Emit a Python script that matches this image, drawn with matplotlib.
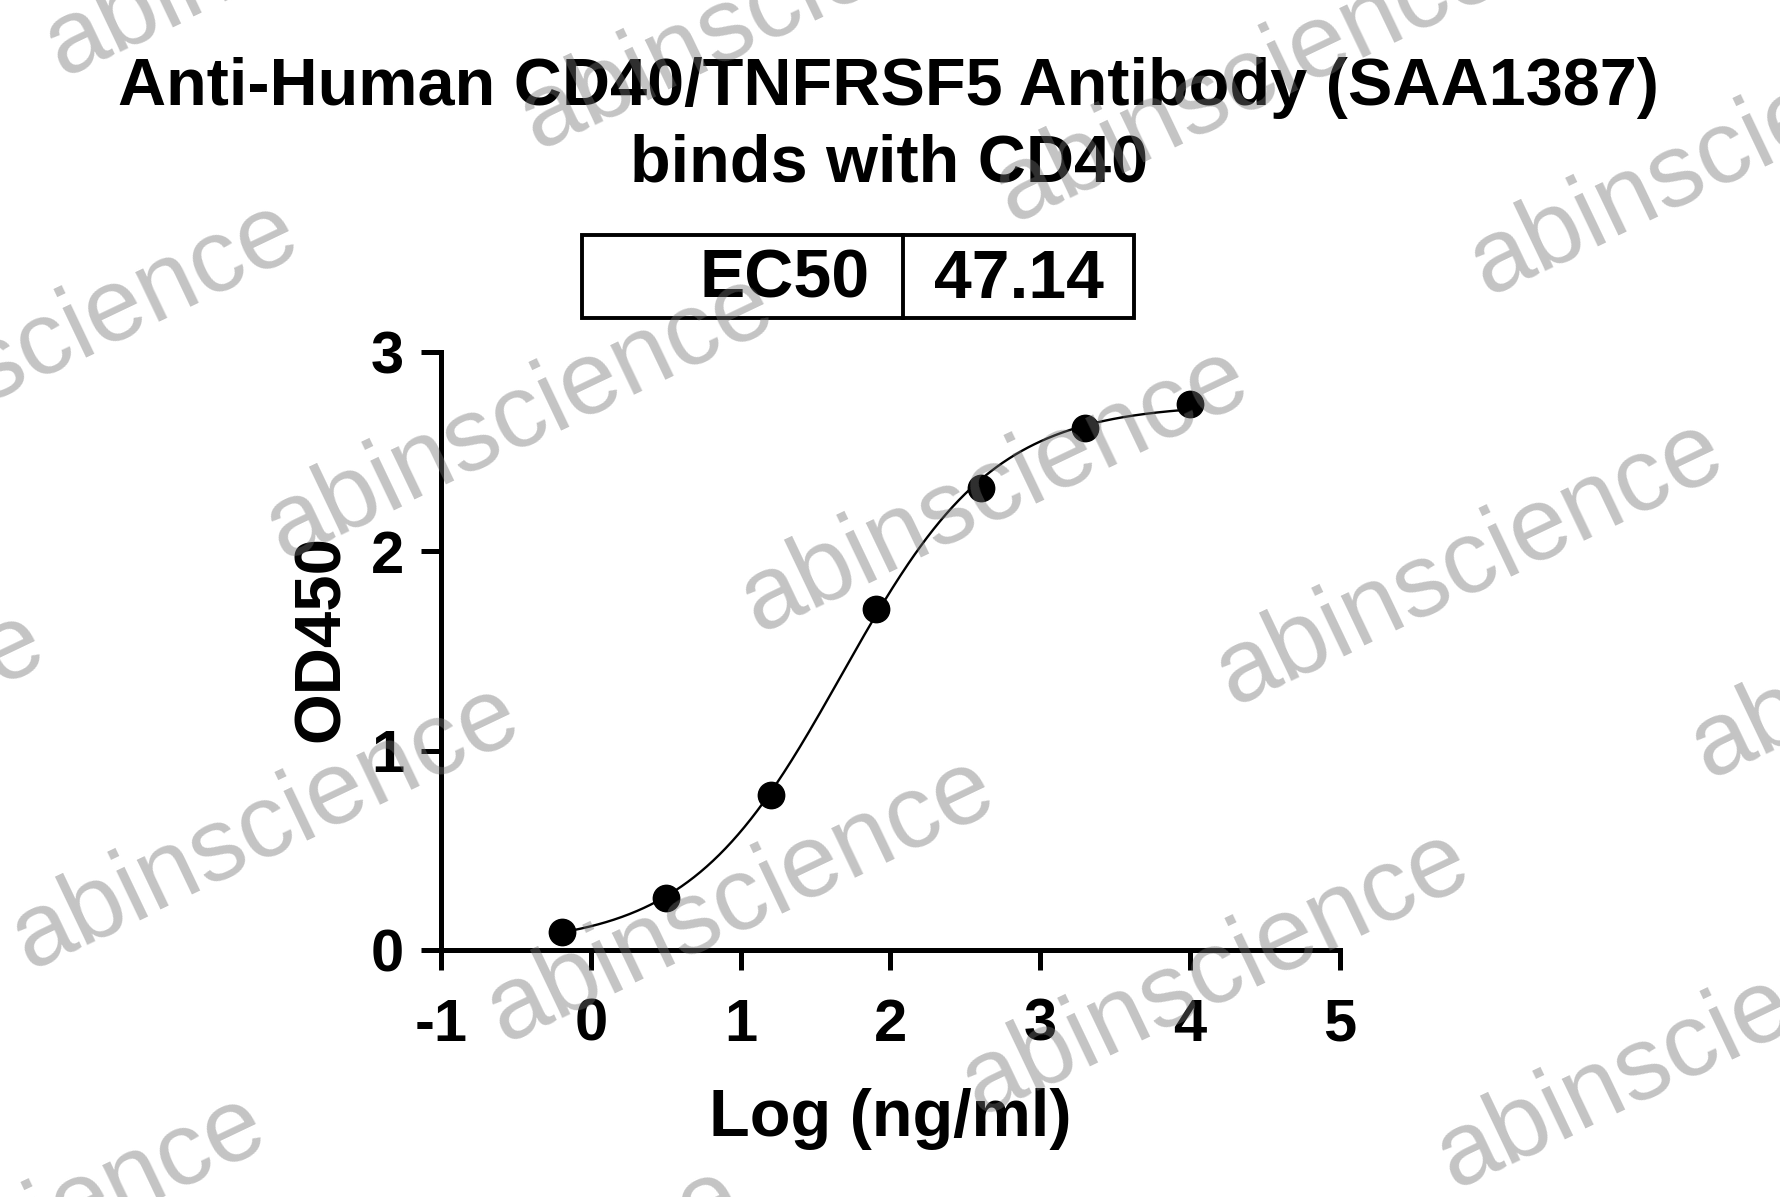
import numpy as np
import matplotlib
matplotlib.use("Agg")
import matplotlib.pyplot as plt
from matplotlib.patches import Rectangle

# ---- data ----
log_conc = [-0.194, 0.505, 1.204, 1.903, 2.602, 3.301, 4.0]
od450 = [0.09, 0.26, 0.78, 1.71, 2.32, 2.62, 2.74]
# 4PL fit parameters
fit_bottom = 0.02
fit_top = 2.74
ec50 = 47.14
fit_hill = 0.85
x_ticks = [-1, 0, 1, 2, 3, 4, 5]
y_ticks = [0, 1, 2, 3]
title_lines = ["Anti-Human CD40/TNFRSF5 Antibody (SAA1387)", "binds with CD40"]
x_label = "Log (ng/ml)"
y_label = "OD450"
table_cells = ["EC50", "47.14"]

plt.rcParams['font.family'] = ['Liberation Sans', 'DejaVu Sans']

W, H = 1781, 1197
fig = plt.figure(figsize=(W / 100, H / 100), dpi=100)
fig.patch.set_facecolor("white")

def fx(px):
    return px / W

def fy(py):
    return 1 - py / H

ax = fig.add_axes([fx(441), fy(950), fx(1340) - fx(441), fy(352) - fy(950)])
ax.set_xlim(-1, 5)
ax.set_ylim(0, 3)
for s in ["top", "right"]:
    ax.spines[s].set_visible(False)
for s in ["left", "bottom"]:
    ax.spines[s].set_linewidth(3.6)
ax.set_xticks(x_ticks)
ax.set_yticks(y_ticks)
ax.set_xticklabels([str(t) for t in x_ticks])
ax.set_yticklabels([str(t) for t in y_ticks])
ax.tick_params(axis="both", direction="out", length=14.5, width=3.6, labelsize=43)
ax.tick_params(axis="x", pad=20)
ax.tick_params(axis="y", pad=12)
for lab in ax.get_xticklabels() + ax.get_yticklabels():
    lab.set_fontweight("bold")

fig.text(fx(890), fy(1136), x_label, ha="center", va="baseline", fontsize=48, fontweight="bold")
fig.text(fx(339), fy(639), y_label, ha="center", va="baseline", rotation=90,
         rotation_mode="anchor", fontsize=47, fontweight="bold")

xc = np.linspace(min(log_conc), max(log_conc), 400)
yc = fit_bottom + (fit_top - fit_bottom) / (1 + 10 ** ((np.log10(ec50) - xc) * fit_hill))
ax.plot(xc, yc, color="black", lw=1.7, zorder=3, clip_on=False)
ax.plot(log_conc, od450, "o", color="black", ms=19, zorder=4, clip_on=False)

fig.text(0.499, fy(105), title_lines[0], ha="center", va="baseline", fontsize=48, fontweight="bold")
fig.text(0.499, fy(182), title_lines[1], ha="center", va="baseline", fontsize=48, fontweight="bold")

# EC50 table
fig.patches.append(Rectangle((fx(582), fy(318)), fx(1134) - fx(582), fy(235) - fy(318),
                             transform=fig.transFigure, fill=False, lw=2.8, ec="black"))
fig.add_artist(plt.Line2D([fx(903), fx(903)], [fy(318), fy(235)], transform=fig.transFigure,
                          color="black", lw=2.8))
fig.text(fx(870), fy(298), table_cells[0], ha="right", va="baseline", fontsize=49, fontweight="bold")
fig.text(fx(934), fy(298), table_cells[1], ha="left", va="baseline", fontsize=49, fontweight="bold")

# watermark
anchor = np.array([758.0, 632.0])
stepA = np.array([475.0, 73.0])
stepB = np.array([254.0, -410.0])
for i in range(-3, 4):
    for j in range(-3, 4):
        p = anchor + i * stepA + j * stepB
        if -700 < p[0] < W + 50 and -50 < p[1] < H + 400:
            fig.text(fx(p[0]), fy(p[1]), "abinscience", ha="left", va="baseline",
                     rotation=25.5, rotation_mode="anchor", fontsize=75,
                     color=(0.45, 0.45, 0.45), alpha=0.42, zorder=10)

fig.savefig("out.png", dpi=100)
